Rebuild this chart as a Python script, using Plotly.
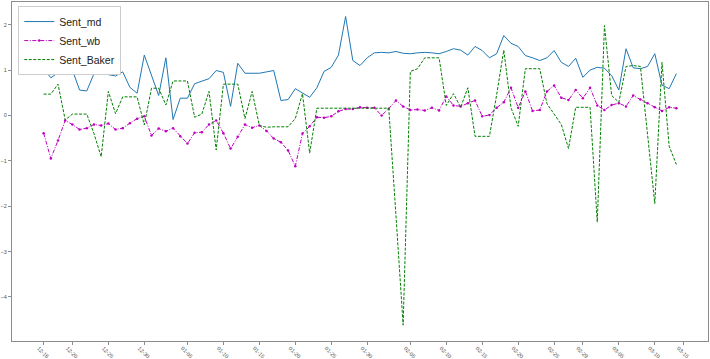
import plotly.graph_objects as go

tick_labels = ["12-16", "12-20", "12-25", "12-30", "01-05", "01-10", "01-15", "01-20",
               "01-25", "01-30", "02-05", "02-10", "02-15", "02-20", "02-25", "02-29",
               "03-05", "03-10", "03-15"]
tick_index = [0, 4, 9, 14, 20, 25, 30, 35, 40, 45, 51, 56, 61, 66, 71, 75, 80, 85, 89]

sent_md = [1.03, 0.83, 0.94, 0.94, 1.00, 0.56, 0.54, 0.92, 0.97, 0.90,
           0.87, 0.96, 0.62, 0.49, 1.33, 0.88, 0.44, 1.27, -0.09, 0.38,
           0.38, 0.70, 0.75, 0.81, 0.99, 0.95, 0.20, 1.15, 0.93, 0.93,
           0.93, 0.96, 0.99, 0.33, 0.35, 0.59, 0.49, 0.40, 0.61, 0.97,
           1.06, 1.33, 2.18, 1.21, 1.10, 1.27, 1.38, 1.39, 1.38, 1.41,
           1.37, 1.36, 1.38, 1.39, 1.38, 1.36, 1.41, 1.47, 1.44, 1.33,
           1.52, 1.43, 1.27, 1.36, 1.76, 1.59, 1.52, 1.32, 1.27, 1.21,
           1.27, 1.43, 1.17, 1.08, 1.26, 0.84, 1.00, 1.06, 1.04, 0.88,
           0.56, 1.47, 1.05, 1.03, 1.08, 1.36, 0.67, 0.59, 0.92]

sent_wb = [-0.39, -0.95, -0.55, -0.11, -0.20, -0.31, -0.28, -0.20, -0.22, -0.18,
           -0.31, -0.28, -0.17, -0.07, -0.02, -0.44, -0.29, -0.35, -0.28, -0.46,
           -0.62, -0.38, -0.37, -0.20, -0.11, -0.39, -0.73, -0.47, -0.20, -0.27,
           -0.22, -0.34, -0.51, -0.59, -0.77, -1.12, -0.40, -0.24, -0.04, -0.05,
           -0.02, 0.09, 0.14, 0.14, 0.18, 0.17, 0.17, 0.00, 0.15, 0.33,
           0.20, 0.12, 0.13, 0.11, 0.17, 0.11, 0.42, 0.22, 0.20, 0.27,
           0.33, -0.02, 0.01, 0.17, 0.29, 0.61, 0.17, 0.53, 0.10, 0.12,
           0.53, 0.66, 0.39, 0.34, 0.56, 0.38, 0.61, 0.22, 0.12, 0.23,
           0.27, 0.20, 0.44, 0.35, 0.27, 0.18, 0.10, 0.18, 0.16]

sent_baker = [0.47, 0.47, 0.69, -0.10, 0.03, 0.03, 0.03, -0.40, -0.91, 0.53,
              0.04, 0.41, 0.41, 0.41, -0.21, 0.60, 0.60, 0.23, 0.76, 0.76,
              0.76, -0.04, 0.03, 0.53, -0.76, 0.69, 0.69, 0.69, -0.07, 0.53,
              -0.22, -0.26, -0.25, -0.25, -0.25, -0.07, 0.48, -0.83, 0.16, 0.16,
              0.16, 0.16, 0.16, 0.16, 0.16, 0.16, 0.16, 0.16, 0.16, -2.20,
              -4.62, 0.97, 1.03, 1.27, 1.27, 1.27, 0.22, 0.48, 0.18, 0.61,
              -0.46, -0.46, -0.46, 0.45, 1.44, 0.17, -0.24, 1.03, 1.03, 1.03,
              0.26, 0.04, -0.20, -0.73, 0.18, 0.18, 0.18, -2.35, 1.98, 0.44,
              0.29, 1.08, 1.10, 1.08, -0.43, -1.94, 1.17, -0.68, -1.08]

x = list(range(len(sent_md)))

fig = go.Figure()
fig.add_trace(go.Scatter(x=x, y=sent_md, name="Sent_md", mode="lines",
                         line=dict(color="#1f77b4", width=1)))
fig.add_trace(go.Scatter(x=x, y=sent_wb, name="Sent_wb", mode="lines+markers",
                         line=dict(color="#BF00BF", width=1, dash="4px,1.5px,1px,1.5px"),
                         marker=dict(color="#BF00BF", size=2.5)))
fig.add_trace(go.Scatter(x=x, y=sent_baker, name="Sent_Baker", mode="lines",
                         line=dict(color="#008000", width=1, dash="3px,1.5px")))

axis_common = dict(showgrid=False, zeroline=False, showline=True, mirror=True,
                   linecolor="#8c8c8c", linewidth=1, ticks="outside", ticklen=3,
                   tickcolor="#8c8c8c", tickfont=dict(family="Liberation Sans", size=5.5, color="#555"))

fig.update_xaxes(range=[-4.4, 92.4], tickmode="array", tickvals=tick_index,
                 ticktext=tick_labels, tickangle=45, ticklabelshift=-5,
                 ticklabelstandoff=-2, **axis_common)
fig.update_yaxes(range=[-4.97, 2.5], tickmode="array", tickvals=[-4, -3, -2, -1, 0, 1, 2],
                 **axis_common)

fig.update_layout(
    width=710, height=359,
    margin=dict(l=12, r=2, t=2, b=18, autoexpand=False),
    paper_bgcolor="white", plot_bgcolor="white",
    showlegend=True,
    legend=dict(x=0.009, y=0.988, xanchor="left", yanchor="top",
                bgcolor="white", bordercolor="#cccccc", borderwidth=1,
                font=dict(family="Liberation Sans", size=10.5, color="#222"),
                itemwidth=30, tracegroupgap=0),
)

fig.write_html("out.html", config={"displayModeBar": False},
               post_script="document.body.style.margin='0px';document.body.style.overflow='hidden';")
